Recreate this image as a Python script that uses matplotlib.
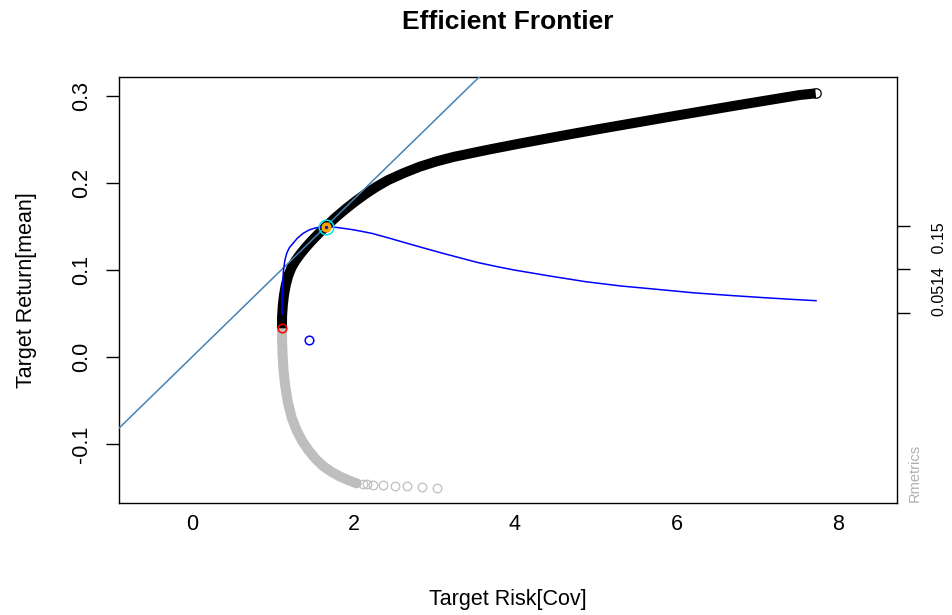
import matplotlib
matplotlib.use("Agg")
import matplotlib.pyplot as plt

plt.rcParams['font.family'] = ['Liberation Sans', 'DejaVu Sans']

# ---- data ----
# efficient (upper) branch of the frontier
upper_risk = [1.1146, 1.1158, 1.1245, 1.1393, 1.1616, 1.1926, 1.2322, 1.2817, 1.3375, 1.3994,
              1.4675, 1.5356, 1.5975, 1.6557, 1.7796, 1.9034, 2.0272, 2.1511, 2.2749, 2.4235,
              2.6217, 2.8198, 3.0303, 3.2409, 3.6495, 4.0582, 4.5536, 5.0489, 5.8786, 6.7084,
              7.5257, 7.7238]
upper_return = [0.0330, 0.0471, 0.0592, 0.0713, 0.0828, 0.0936, 0.1028, 0.1106, 0.1178, 0.1249,
                0.1321, 0.1387, 0.1445, 0.1498, 0.1605, 0.1702, 0.1792, 0.1875, 0.1951, 0.2031,
                0.2114, 0.2187, 0.2249, 0.2300, 0.2379, 0.2453, 0.2538, 0.2621, 0.2755, 0.2886,
                0.3011, 0.3030]

# inefficient (lower) branch
lower_risk = [1.1146, 1.1158, 1.1220, 1.1331, 1.1542, 1.1889, 1.2359, 1.2966, 1.3647, 1.4402,
              1.5294, 1.6260, 1.7276, 1.8328, 1.9381, 2.0396]
lower_return = [0.0330, 0.0195, 0.0023, -0.0149, -0.0333, -0.0529, -0.0701, -0.0845, -0.0966,
                -0.1069, -0.1170, -0.1255, -0.1320, -0.1374, -0.1417, -0.1452]
tail_risk = [2.121, 2.163, 2.245, 2.369, 2.514, 2.659, 2.845, 3.031]
tail_return = [-0.1460, -0.1465, -0.1470, -0.1476, -0.1482, -0.1488, -0.1494, -0.1500]

# scaled Sharpe ratio curve
sharpe_risk = [1.115, 1.115, 1.118, 1.131, 1.150, 1.173, 1.205, 1.254, 1.310, 1.378,
               1.450, 1.523, 1.590, 1.656, 1.720, 1.850, 2.000, 2.222, 2.440, 2.663,
               2.880, 3.105, 3.330, 3.547, 3.770, 3.988, 4.430, 4.871, 5.313, 5.755,
               6.196, 6.638, 7.080, 7.400, 7.728]
sharpe_scaled = [0.0490, 0.0600, 0.0760, 0.0980, 0.1110, 0.1192, 0.1255, 0.1310, 0.1370, 0.1422,
                 0.1460, 0.1482, 0.1494, 0.1498, 0.1497, 0.1482, 0.1462, 0.1422, 0.1367, 0.1307,
                 0.1250, 0.1192, 0.1137, 0.1084, 0.1040, 0.1000, 0.0931, 0.0866, 0.0816, 0.0778,
                 0.0739, 0.0709, 0.0682, 0.0664, 0.0647]

minvar_point = (1.1146, 0.0330)
tangency_point = (1.6557, 0.1498)
equal_weights_point = (1.454, 0.0195)
risk_free_rate = 0.0

x_ticks = [0, 2, 4, 6, 8]
y_ticks = [-0.1, 0.0, 0.1, 0.2, 0.3]
y_tick_labels = ['-0.1', '0.0', '0.1', '0.2', '0.3']
sr_ticks = [0.0509, 0.1007, 0.1505]
sr_tick_labels = ['', '0.0514   0.15', '']

# ---- figure ----
W, H = 953, 615
fig = plt.figure(figsize=(W / 100, H / 100), dpi=100)
ax = fig.add_axes([119 / W, 112 / H, 778 / W, 426 / H])
ax.set_xlim(-0.904, 8.731)
ax.set_ylim(-0.1678, 0.3218)

grey = '#BEBEBE'
ms = 6.2
band = 7.2

# lower branch
ax.plot(lower_risk, lower_return, color=grey, lw=band, solid_capstyle='round',
        solid_joinstyle='round', zorder=2)
ax.plot(tail_risk, tail_return, 'o', mfc='none', mec=grey, ms=ms, mew=0.9, zorder=2)

# upper branch
ax.plot(upper_risk, upper_return, color='black', lw=band, solid_capstyle='butt',
        solid_joinstyle='round', zorder=3)
ax.plot(upper_risk[-1], upper_return[-1], 'o', mfc='none', mec='black', ms=ms + 0.6,
        mew=0.9, zorder=3)

# tangency line
slope = (tangency_point[1] - risk_free_rate) / tangency_point[0]
ax.axline((0, risk_free_rate), slope=slope, color='#4682B4', lw=1.1, zorder=4)

# Sharpe ratio curve
ax.plot(sharpe_risk, sharpe_scaled, color='#0000FF', lw=1.1, zorder=5)

# special points
ax.plot(*minvar_point, 'o', mfc='none', mec='#FF0000', ms=ms, mew=1.1, zorder=6)
ax.plot(*equal_weights_point, 'o', mfc='none', mec='#0000FF', ms=ms, mew=1.1, zorder=6)
ax.plot(*tangency_point, 'o', mfc='#FFA500', mec='#FFA500', ms=6.5, mew=0.8, zorder=6)
ax.plot(*tangency_point, 'o', mfc='none', mec='#00E5EE', ms=10.5, mew=1.1, zorder=7)
ax.plot(*tangency_point, 'o', mfc='#1a1a80', mec='none', ms=2.5, zorder=7)

# axes styling
for s in ax.spines.values():
    s.set_linewidth(1.0)
    s.set_color('black')
ax.set_xticks(x_ticks)
ax.set_xticklabels([str(t) for t in x_ticks])
ax.set_yticks(y_ticks)
ax.set_yticklabels(y_tick_labels, rotation=90, va='center')
ax.tick_params(axis='both', direction='out', width=1.0, labelsize=15.5)
ax.tick_params(axis='x', length=0, pad=8)
ax.tick_params(axis='y', length=9.4, pad=10)

# right axis for Sharpe ratio
ax2 = ax.twinx()
ax2.set_ylim(ax.get_ylim())
ax2.set_yticks(sr_ticks)
ax2.set_yticklabels(sr_tick_labels, rotation=90, va='center')
ax2.tick_params(axis='y', direction='out', length=9.4, width=1.0, labelsize=11.5, pad=16)
for s in ax2.spines.values():
    s.set_visible(False)

# texts
fig.text(508 / W, 1 - 22 / H, 'Efficient Frontier', ha='center', va='center',
         fontsize=19, fontweight='bold')
fig.text(508 / W, 1 - 600 / H, 'Target Risk[Cov]', ha='center', va='center', fontsize=15.5)
fig.text(27 / W, 1 - 290 / H, 'Target Return[mean]', ha='center', va='center',
         rotation=90, fontsize=15.5)
fig.text(915 / W, 1 - 502 / H, 'Rmetrics', ha='center', va='bottom', rotation=90,
         fontsize=10.5, color='#B0B0B0')

fig.savefig('out.png', dpi=100)
